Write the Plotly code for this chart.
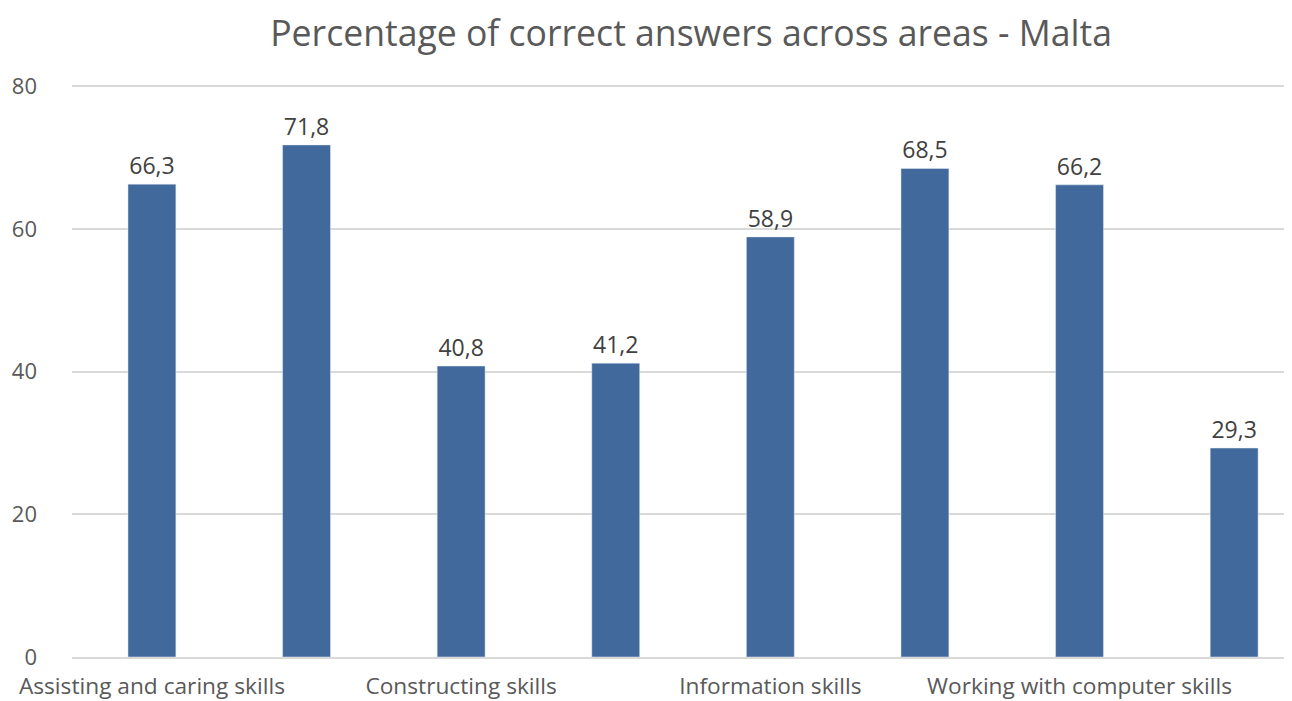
import plotly.graph_objects as go

# bar values (one per area / sub-area); only every other area is labelled on the axis
positions = [0, 1, 2, 3, 4, 5, 6, 7]
values = [66.3, 71.8, 40.8, 41.2, 58.9, 68.5, 66.2, 29.3]
tick_positions = [0, 2, 4, 6]
tick_labels = [
    "Assisting and caring skills",
    "Constructing skills",
    "Information skills",
    "Working with computer skills",
]

FONT = "Open Sans, Noto Sans, sans-serif"

fig = go.Figure(go.Bar(
    x=positions, y=values,
    marker_color="#41699B",
    text=[f"{v:.1f}".replace(".", ",") for v in values],
    textposition="outside",
    textfont=dict(family=FONT, size=23, color="#404040"),
    cliponaxis=False,
))
# the page body has an 8px margin, so the margins below are offset by it;
# the plot area runs past the right edge of the window, as in the source
fig.update_layout(
    title=dict(
        text="Percentage of correct answers across areas - Malta",
        x=0.5287, xanchor="center", y=0.982, yanchor="top",
        font=dict(family=FONT, size=35.6, color="#595959"),
    ),
    width=1292, height=701,
    margin=dict(l=64, r=0, t=77, b=52),
    paper_bgcolor="white", plot_bgcolor="white",
    bargap=0.69, showlegend=False,
)
fig.update_xaxes(
    range=[-0.517, 7.426],
    tickvals=tick_positions, ticktext=tick_labels,
    tickfont=dict(family=FONT, size=22.7, color="#595959"),
    showgrid=False, zeroline=False,
    showline=True, linecolor="#d9d9d9", linewidth=2,
    ticks="", ticklabelstandoff=8, automargin=False,
)
fig.update_yaxes(
    range=[0, 80.2], tickvals=[0, 20, 40, 60, 80],
    tickfont=dict(family=FONT, size=22, color="#595959"),
    showgrid=True, gridcolor="#d9d9d9", gridwidth=2,
    zeroline=False, ticks="", ticklabelstandoff=34, automargin=False,
)

fig.write_html("out.html")
